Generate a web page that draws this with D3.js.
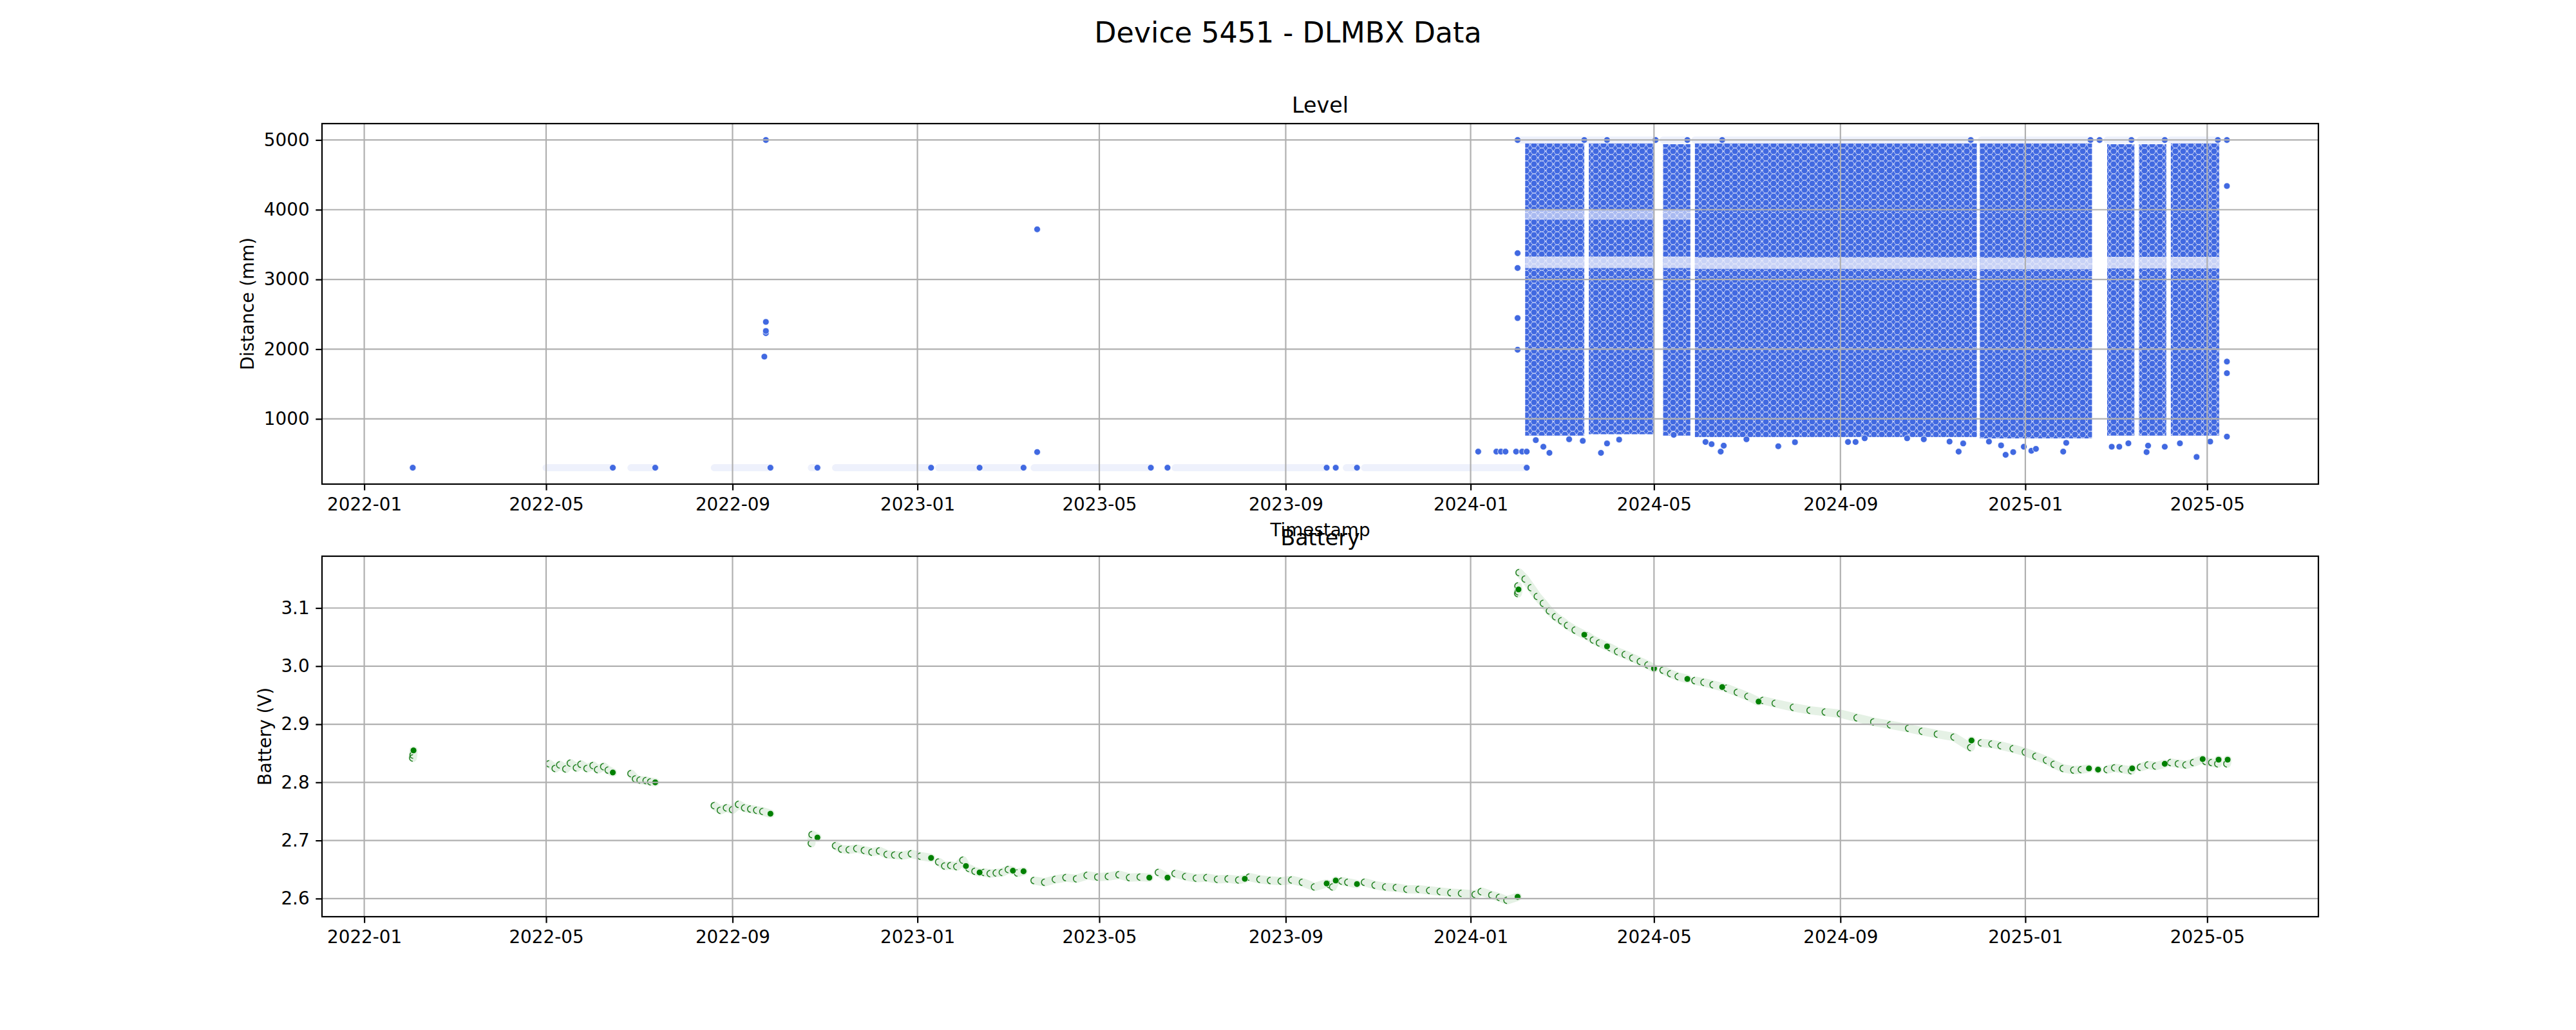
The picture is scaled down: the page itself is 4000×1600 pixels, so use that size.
<!DOCTYPE html>
<html>
<head>
<meta charset="utf-8">
<script src="https://cdn.jsdelivr.net/npm/d3@7"></script>
<style>
  body { margin: 0; background: #fff; }
  svg text { font-family: "DejaVu Sans", sans-serif; fill: #000; }
</style>
</head>
<body>
<svg id="chart" width="4000" height="1600"></svg>
<script>
// ---- data ----
const xTickLabels = ['2022-01', '2022-05', '2022-09', '2023-01', '2023-05', '2023-09',
                     '2024-01', '2024-05', '2024-09', '2025-01', '2025-05'];
const levelTicks = [1000, 2000, 3000, 4000, 5000];
const batteryTicks = [2.6, 2.7, 2.8, 2.9, 3.0, 3.1];

// stretches where the level reading sat on one value: [start, end, mm]
const levelRuns = [
  ['2022-02-02', '2022-02-02', 300],
  ['2022-05-01', '2022-06-14', 300],
  ['2022-06-26', '2022-07-12', 300],
  ['2022-08-20', '2022-09-26', 300],
  ['2022-10-23', '2022-10-27', 300],
  ['2022-11-08', '2023-01-10', 300],
  ['2023-01-15', '2023-02-11', 300],
  ['2023-02-14', '2023-03-12', 300],
  ['2023-03-19', '2023-06-04', 300],
  ['2023-06-15', '2023-06-15', 300],
  ['2023-06-20', '2023-09-28', 300],
  ['2023-10-04', '2023-10-04', 300],
  ['2023-10-11', '2023-10-18', 300],
  ['2023-10-23', '2024-02-07', 300],
  ['2024-02-01', '2024-03-16', 5000],
  ['2024-03-18', '2024-03-31', 5000],
  ['2024-04-01', '2024-05-02', 5000],
  ['2024-05-07', '2024-05-23', 5000],
  ['2024-05-28', '2024-06-15', 5000],
  ['2024-06-16', '2024-11-26', 5000],
  ['2024-12-03', '2025-02-13', 5000],
  ['2025-02-19', '2025-02-19', 5000],
  ['2025-02-24', '2025-03-12', 5000],
  ['2025-03-18', '2025-04-03', 5000],
  ['2025-04-07', '2025-05-08', 5000],
  ['2025-05-14', '2025-05-14', 5000]
];

// periods where readings are spread over the whole range: [start, end, low mm, high mm]
const levelSpread = [
  ['2024-02-06', '2024-03-16', 760, 4950],
  ['2024-03-19', '2024-05-01', 780, 4950],
  ['2024-05-07', '2024-05-25', 760, 4940],
  ['2024-05-28', '2024-11-30', 740, 4950],
  ['2024-12-02', '2025-02-14', 720, 4950],
  ['2025-02-24', '2025-03-14', 760, 4940],
  ['2025-03-17', '2025-04-04', 760, 4940],
  ['2025-04-07', '2025-05-09', 760, 4950]
];

// values repeated often inside those periods: [start, end, mm]
const levelRepeat = [
  ['2024-02-06', '2024-03-16', 3245],
  ['2024-03-19', '2024-05-01', 3245],
  ['2024-05-07', '2024-05-25', 3245],
  ['2024-05-28', '2024-11-30', 3235],
  ['2024-12-02', '2025-02-14', 3230],
  ['2025-02-24', '2025-03-14', 3240],
  ['2025-03-17', '2025-04-04', 3240],
  ['2025-04-07', '2025-05-09', 3240]
];
const levelRepeatFaint = [
  ['2024-02-06', '2024-03-16', 3930],
  ['2024-03-19', '2024-05-01', 3930],
  ['2024-05-07', '2024-05-25', 3930]
];

// single level readings
const levelPoints = [
  ['2022-09-22', 1893], ['2022-09-23', 2230], ['2022-09-23', 2261], ['2022-09-23', 2391], ['2022-09-23', 5000],
  ['2023-03-21', 3719], ['2023-03-21', 525],
  ['2024-01-06', 531], ['2024-01-18', 531], ['2024-01-21', 531], ['2024-01-24', 531],
  ['2024-01-31', 531], ['2024-02-04', 531], ['2024-02-07', 531],
  ['2024-02-01', 3377], ['2024-02-01', 3164], ['2024-02-01', 2446], ['2024-02-01', 1992], ['2024-02-01', 5000],
  ['2024-02-13', 696], ['2024-02-18', 601], ['2024-02-22', 513], ['2024-03-06', 708], ['2024-03-15', 685],
  ['2024-03-27', 513], ['2024-03-31', 648], ['2024-04-08', 703], ['2024-05-14', 772], ['2024-06-04', 669],
  ['2024-06-08', 638], ['2024-06-14', 531], ['2024-06-16', 616], ['2024-07-01', 708], ['2024-07-22', 608],
  ['2024-08-02', 666], ['2024-09-06', 669], ['2024-09-11', 669], ['2024-09-17', 722], ['2024-10-15', 722],
  ['2024-10-26', 708], ['2024-11-12', 675], ['2024-11-18', 531], ['2024-11-21', 648], ['2024-12-08', 675],
  ['2024-12-16', 620], ['2024-12-19', 485], ['2024-12-24', 524], ['2024-12-31', 601], ['2025-01-05', 543],
  ['2025-01-08', 570], ['2025-01-26', 531], ['2025-01-28', 657], ['2025-02-27', 601], ['2025-03-04', 601],
  ['2025-03-10', 650], ['2025-03-22', 524], ['2025-03-23', 616], ['2025-04-03', 601], ['2025-04-13', 650],
  ['2025-04-24', 454], ['2025-05-03', 675],
  ['2025-05-14', 4340], ['2025-05-14', 1822], ['2025-05-14', 1656], ['2025-05-14', 746]
];

// battery readings, one array per uninterrupted run: [time, volts]
const batteryRuns = [
  [['2022-02-02T00', 2.842], ['2022-02-02T06', 2.847], ['2022-02-02T12', 2.855]],
  [['2022-05-03', 2.832], ['2022-05-07', 2.824], ['2022-05-10', 2.830], ['2022-05-14', 2.823], ['2022-05-17', 2.833],
   ['2022-05-21', 2.825], ['2022-05-24', 2.831], ['2022-05-28', 2.824], ['2022-06-01', 2.829], ['2022-06-04', 2.822],
   ['2022-06-08', 2.827], ['2022-06-11', 2.821], ['2022-06-14', 2.817]],
  [['2022-06-26', 2.815], ['2022-06-29', 2.806], ['2022-07-02', 2.804], ['2022-07-06', 2.803], ['2022-07-09', 2.801],
   ['2022-07-12', 2.800]],
  [['2022-08-20', 2.760], ['2022-08-24', 2.752], ['2022-08-28', 2.756], ['2022-09-01', 2.753], ['2022-09-05', 2.762],
   ['2022-09-09', 2.756], ['2022-09-13', 2.754], ['2022-09-17', 2.752], ['2022-09-21', 2.750], ['2022-09-26', 2.746]],
  [['2022-10-23T00', 2.695], ['2022-10-23T12', 2.710], ['2022-10-27', 2.705]],
  [['2022-11-08', 2.691], ['2022-11-12', 2.685], ['2022-11-17', 2.684], ['2022-11-22', 2.686], ['2022-11-27', 2.683],
   ['2022-12-02', 2.680], ['2022-12-07', 2.682], ['2022-12-12', 2.676], ['2022-12-17', 2.675], ['2022-12-22', 2.674],
   ['2022-12-28', 2.677], ['2023-01-03', 2.673], ['2023-01-10', 2.670]],
  [['2023-01-15', 2.663], ['2023-01-19', 2.656], ['2023-01-23', 2.657], ['2023-01-27', 2.655], ['2023-01-31', 2.666],
   ['2023-02-02', 2.656]],
  [['2023-02-04', 2.652], ['2023-02-08', 2.647], ['2023-02-11', 2.645]],
  [['2023-02-14', 2.645], ['2023-02-18', 2.643], ['2023-02-22', 2.644], ['2023-02-26', 2.645], ['2023-03-02', 2.650],
   ['2023-03-05', 2.648]],
  [['2023-03-08', 2.644], ['2023-03-12', 2.647]],
  [['2023-03-19', 2.631], ['2023-03-26', 2.628], ['2023-04-02', 2.633], ['2023-04-09', 2.636], ['2023-04-16', 2.634],
   ['2023-04-23', 2.640], ['2023-04-30', 2.637], ['2023-05-07', 2.638], ['2023-05-14', 2.641], ['2023-05-21', 2.636],
   ['2023-05-28', 2.637], ['2023-06-03', 2.636]],
  [['2023-06-09', 2.645], ['2023-06-15', 2.636]],
  [['2023-06-20', 2.643], ['2023-06-27', 2.638], ['2023-07-04', 2.635], ['2023-07-11', 2.636], ['2023-07-18', 2.633],
   ['2023-07-25', 2.634], ['2023-08-01', 2.632], ['2023-08-05', 2.634]],
  [['2023-08-08', 2.637], ['2023-08-15', 2.633], ['2023-08-22', 2.631], ['2023-08-29', 2.630], ['2023-09-05', 2.632],
   ['2023-09-12', 2.628], ['2023-09-20', 2.620], ['2023-09-28', 2.626]],
  [['2023-09-30', 2.624], ['2023-10-02', 2.620], ['2023-10-04', 2.631]],
  [['2023-10-08', 2.630], ['2023-10-12', 2.628], ['2023-10-18', 2.625]],
  [['2023-10-23', 2.628], ['2023-10-30', 2.623], ['2023-11-06', 2.620], ['2023-11-13', 2.619], ['2023-11-20', 2.616],
   ['2023-11-28', 2.616], ['2023-12-05', 2.614], ['2023-12-12', 2.612], ['2023-12-19', 2.610], ['2023-12-26', 2.609],
   ['2024-01-04', 2.607], ['2024-01-08', 2.612], ['2024-01-15', 2.606], ['2024-01-20', 2.602], ['2024-01-25', 2.597],
   ['2024-02-01', 2.603]],
  [['2024-02-01T02', 3.125], ['2024-02-01T06', 3.138], ['2024-02-01T10', 3.128], ['2024-02-01T14', 3.132]],
  [['2024-02-02', 3.161], ['2024-02-06', 3.150], ['2024-02-10', 3.135], ['2024-02-14', 3.120], ['2024-02-18', 3.108],
   ['2024-02-22', 3.095], ['2024-02-26', 3.085], ['2024-03-01', 3.078], ['2024-03-05', 3.070], ['2024-03-10', 3.062],
   ['2024-03-16', 3.054]],
  [['2024-03-18', 3.052], ['2024-03-22', 3.045], ['2024-03-26', 3.040], ['2024-03-31', 3.034]],
  [['2024-04-02', 3.032], ['2024-04-07', 3.025], ['2024-04-12', 3.020], ['2024-04-17', 3.014], ['2024-04-22', 3.008],
   ['2024-04-27', 3.002], ['2024-05-01', 2.996]],
  [['2024-05-07', 2.993], ['2024-05-12', 2.987], ['2024-05-17', 2.982], ['2024-05-23', 2.978]],
  [['2024-05-28', 2.975], ['2024-06-03', 2.972], ['2024-06-09', 2.968], ['2024-06-15', 2.964]],
  [['2024-06-18', 2.962], ['2024-06-25', 2.955], ['2024-07-02', 2.948], ['2024-07-09', 2.939]],
  [['2024-07-12', 2.941], ['2024-07-20', 2.936], ['2024-08-01', 2.929], ['2024-08-12', 2.924], ['2024-08-22', 2.921],
   ['2024-09-01', 2.918], ['2024-09-12', 2.911], ['2024-09-23', 2.904], ['2024-10-04', 2.899], ['2024-10-16', 2.893],
   ['2024-10-25', 2.888], ['2024-11-04', 2.883], ['2024-11-15', 2.878], ['2024-11-26T00', 2.860], ['2024-11-26T12', 2.872]],
  [['2024-12-03', 2.868], ['2024-12-10', 2.866], ['2024-12-16', 2.863], ['2024-12-24', 2.858], ['2025-01-01', 2.852],
   ['2025-01-08', 2.845], ['2025-01-15', 2.838], ['2025-01-20', 2.831], ['2025-01-26', 2.824], ['2025-02-02', 2.821],
   ['2025-02-07', 2.822], ['2025-02-12', 2.824]],
  [['2025-02-18', 2.822]],
  [['2025-02-24', 2.822], ['2025-03-01', 2.825], ['2025-03-06', 2.823], ['2025-03-12T00', 2.820], ['2025-03-12T12', 2.824]],
  [['2025-03-18', 2.826], ['2025-03-23', 2.830], ['2025-03-28', 2.828], ['2025-04-03', 2.832]],
  [['2025-04-07', 2.834], ['2025-04-12', 2.832], ['2025-04-17', 2.830], ['2025-04-22', 2.834], ['2025-04-28', 2.840]],
  [['2025-04-30', 2.836], ['2025-05-04', 2.834], ['2025-05-08T00', 2.832], ['2025-05-08T12', 2.839]],
  [['2025-05-14T00', 2.832], ['2025-05-14T12', 2.839]]
];

// ---- layout ----
const left = 500, plotW = 3100, plotH = 560;
const levelTop = 192, batteryTop = 864;
const tickFont = 27.8, lw = 2.2, tickLen = 9.7;
const blue = '#4169e1', green = '#008000';
const dotR = 5;

const parseDay = d3.utcParse('%Y-%m-%d');
const parseHour = d3.utcParse('%Y-%m-%dT%H');
const parseTime = s => s.length > 10 ? parseHour(s) : parseDay(s);

// matplotlib-like 5% margin around the data
function padded(ext) {
  const p = (ext[1] - ext[0]) * 0.05;
  return [ext[0] - p, ext[1] + p];
}

const allTimes = []
  .concat(levelRuns.flatMap(r => [r[0], r[1]]))
  .concat(levelPoints.map(p => p[0]))
  .concat(batteryRuns.flat().map(p => p[0]))
  .map(parseTime);
const tExt = padded(d3.extent(allTimes, d => +d));

const x = d3.scaleUtc()
  .domain([new Date(tExt[0]), new Date(tExt[1])])
  .range([left, left + plotW]);

const levelVals = levelRuns.map(r => r[2])
  .concat(levelPoints.map(p => p[1]))
  .concat(levelSpread.flatMap(s => [s[2], s[3]]));
const yLevel = d3.scaleLinear()
  .domain(padded(d3.extent(levelVals)))
  .range([levelTop + plotH, levelTop]);

const yBattery = d3.scaleLinear()
  .domain(padded(d3.extent(batteryRuns.flat(), p => p[1])))
  .range([batteryTop + plotH, batteryTop]);

const svg = d3.select('#chart');
svg.append('rect').attr('width', 4000).attr('height', 1600).attr('fill', '#fff');

const defs = svg.append('defs');
[['clipLevel', levelTop], ['clipBattery', batteryTop]].forEach(c => {
  defs.append('clipPath').attr('id', c[0])
    .append('rect').attr('x', left).attr('y', c[1]).attr('width', plotW).attr('height', plotH);
});

// texture standing in for the dense cloud of overlapping dots
const tw = 12, th = 10;
const pat = defs.append('pattern').attr('id', 'spread')
  .attr('patternUnits', 'userSpaceOnUse').attr('width', tw).attr('height', th);
pat.append('rect').attr('width', tw).attr('height', th).attr('fill', '#fff');
[[0, 0], [tw, 0], [0, th], [tw, th], [tw / 2, th / 2]].forEach(c => {
  pat.append('circle').attr('cx', c[0]).attr('cy', c[1]).attr('r', dotR)
    .attr('fill', blue).attr('stroke', '#eef0fc').attr('stroke-width', 0.8);
});

// ---- level panel ----
const gL = svg.append('g').attr('clip-path', 'url(#clipLevel)');

gL.selectAll('line.run').data(levelRuns).join('line')
  .attr('x1', d => x(parseTime(d[0]))).attr('x2', d => x(parseTime(d[1])))
  .attr('y1', d => yLevel(d[2])).attr('y2', d => yLevel(d[2]))
  .attr('stroke', '#eef1fc').attr('stroke-width', 11).attr('stroke-linecap', 'round');

gL.selectAll('rect.spread').data(levelSpread).join('rect')
  .attr('x', d => x(parseTime(d[0])))
  .attr('width', d => x(parseTime(d[1])) - x(parseTime(d[0])))
  .attr('y', d => yLevel(d[3]))
  .attr('height', d => yLevel(d[2]) - yLevel(d[3]))
  .attr('fill', 'url(#spread)');

gL.selectAll('line.rep').data(levelRepeat).join('line')
  .attr('x1', d => x(parseTime(d[0]))).attr('x2', d => x(parseTime(d[1])))
  .attr('y1', d => yLevel(d[2])).attr('y2', d => yLevel(d[2]))
  .attr('stroke', '#eef0fb').attr('stroke-opacity', 0.78).attr('stroke-width', 18);

gL.selectAll('line.faint').data(levelRepeatFaint).join('line')
  .attr('x1', d => x(parseTime(d[0]))).attr('x2', d => x(parseTime(d[1])))
  .attr('y1', d => yLevel(d[2])).attr('y2', d => yLevel(d[2]))
  .attr('stroke', '#eef0fb').attr('stroke-opacity', 0.6).attr('stroke-width', 16);

// last reading of every run plus the loose readings
const levelDots = levelRuns.map(r => [r[1], r[2]]).concat(levelPoints);
gL.selectAll('circle.dot').data(levelDots).join('circle')
  .attr('cx', d => x(parseTime(d[0]))).attr('cy', d => yLevel(d[1]))
  .attr('r', dotR).attr('fill', blue).attr('stroke', '#fff').attr('stroke-width', 0.8);

// ---- battery panel ----
const gB = svg.append('g').attr('clip-path', 'url(#clipBattery)');
const trail = d3.line().x(d => x(parseTime(d[0]))).y(d => yBattery(d[1]));

gB.selectAll('path.trail').data(batteryRuns).join('path')
  .attr('d', trail).attr('fill', 'none')
  .attr('stroke', '#e5f1e5').attr('stroke-width', 13)
  .attr('stroke-linecap', 'round').attr('stroke-linejoin', 'round');

// earlier readings in a run only show their left rim
gB.selectAll('circle.rim').data(batteryRuns.flatMap(r => r.slice(0, -1))).join('circle')
  .attr('cx', d => x(parseTime(d[0]))).attr('cy', d => yBattery(d[1]))
  .attr('r', dotR).attr('fill', 'none')
  .attr('stroke', '#1e7f1e').attr('stroke-width', 1.5)
  .attr('pathLength', 4).attr('stroke-dasharray', '0 1 2 1');

gB.selectAll('circle.dot').data(batteryRuns.map(r => r[r.length - 1])).join('circle')
  .attr('cx', d => x(parseTime(d[0]))).attr('cy', d => yBattery(d[1]))
  .attr('r', dotR).attr('fill', green).attr('stroke', '#fff').attr('stroke-width', 0.8);

// ---- grid, axes, frame ----
const xTicks = xTickLabels.map(d3.utcParse('%Y-%m'));

function frame(top, y, ticks, fmt) {
  const g = svg.append('g');
  g.selectAll('line.vg').data(xTicks).join('line')
    .attr('x1', d => x(d)).attr('x2', d => x(d))
    .attr('y1', top).attr('y2', top + plotH)
    .attr('stroke', '#b0b0b0').attr('stroke-width', lw);
  g.selectAll('line.hg').data(ticks).join('line')
    .attr('x1', left).attr('x2', left + plotW)
    .attr('y1', d => y(d)).attr('y2', d => y(d))
    .attr('stroke', '#b0b0b0').attr('stroke-width', lw);

  const ax = svg.append('g').attr('transform', `translate(0,${top + plotH})`)
    .call(d3.axisBottom(x).tickValues(xTicks).tickFormat(d3.utcFormat('%Y-%m'))
      .tickSize(tickLen).tickPadding(11.5).tickSizeOuter(0));
  const ay = svg.append('g').attr('transform', `translate(${left},0)`)
    .call(d3.axisLeft(y).tickValues(ticks).tickFormat(fmt)
      .tickSize(tickLen).tickPadding(tickLen).tickSizeOuter(0));
  [ax, ay].forEach(a => {
    a.select('.domain').remove();
    a.selectAll('line').attr('stroke', '#000').attr('stroke-width', lw);
    a.selectAll('text').attr('font-size', tickFont)
      .attr('font-family', '"DejaVu Sans", sans-serif').attr('fill', '#000');
  });

  svg.append('rect').attr('x', left).attr('y', top)
    .attr('width', plotW).attr('height', plotH)
    .attr('fill', 'none').attr('stroke', '#000').attr('stroke-width', lw);
}

frame(levelTop, yLevel, levelTicks, d3.format('d'));
frame(batteryTop, yBattery, batteryTicks, d3.format('.1f'));

// ---- text ----
svg.append('text').attr('x', 2000).attr('y', 66).attr('text-anchor', 'middle')
  .attr('font-size', 44.4).text('Device 5451 - DLMBX Data');
svg.append('text').attr('x', left + plotW / 2).attr('y', levelTop - 17).attr('text-anchor', 'middle')
  .attr('font-size', 33.3).text('Level');
// the x label of the upper panel runs into the lower title, as in the source figure
svg.append('text').attr('x', left + plotW / 2).attr('y', 832.7).attr('text-anchor', 'middle')
  .attr('font-size', tickFont).text('Timestamp');
svg.append('text').attr('x', left + plotW / 2).attr('y', batteryTop - 17).attr('text-anchor', 'middle')
  .attr('font-size', 33.3).text('Battery');
svg.append('text').attr('transform', `translate(394,${levelTop + plotH / 2}) rotate(-90)`)
  .attr('text-anchor', 'middle').attr('font-size', tickFont).text('Distance (mm)');
svg.append('text').attr('transform', `translate(421,${batteryTop + plotH / 2}) rotate(-90)`)
  .attr('text-anchor', 'middle').attr('font-size', tickFont).text('Battery (V)');
</script>
</body>
</html>
